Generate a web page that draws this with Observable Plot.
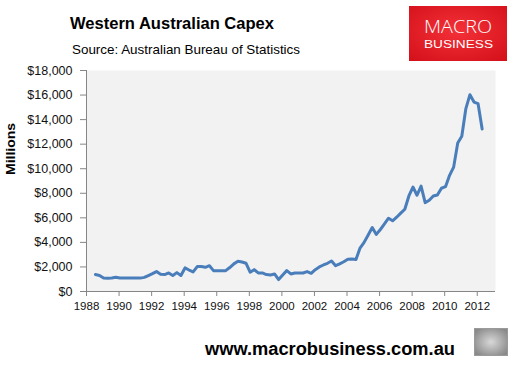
<!DOCTYPE html>
<html><head><meta charset="utf-8">
<script src="https://cdn.jsdelivr.net/npm/d3@7"></script>
<script src="https://cdn.jsdelivr.net/npm/@observablehq/plot@0.6"></script>
<style>
body{margin:0;background:#fff;width:513px;height:365px;position:relative;overflow:hidden;font-family:"Liberation Sans",Arial,sans-serif}
#chart{position:absolute;left:0;top:0}
#overlay{position:absolute;left:0;top:0;pointer-events:none}
</style></head><body>
<div id="chart"></div>
<svg id="overlay" width="513" height="365">
  <text x="70" y="29.3" font-family="Liberation Sans" font-weight="bold" font-size="16.8" textLength="204" lengthAdjust="spacingAndGlyphs" fill="#000">Western Australian Capex</text>
  <text x="72" y="54" font-family="Liberation Sans" font-size="13" textLength="228" lengthAdjust="spacingAndGlyphs" fill="#000">Source: Australian Bureau of Statistics</text>
  <text transform="translate(14.5,149) rotate(-90)" text-anchor="middle" font-family="Liberation Sans" font-weight="bold" font-size="13.5" textLength="52" lengthAdjust="spacingAndGlyphs" fill="#000">Millions</text>
  <text x="205" y="355" font-family="Liberation Sans" font-weight="bold" font-size="18" textLength="250" lengthAdjust="spacingAndGlyphs" fill="#000">www.macrobusiness.com.au</text>
  <defs>
    <radialGradient id="rg" cx="50%" cy="45%" r="70%">
      <stop offset="0" stop-color="#f43038"/>
      <stop offset="1" stop-color="#d5121b"/>
    </radialGradient>
    <radialGradient id="wg" cx="50%" cy="50%" r="60%">
      <stop offset="0" stop-color="#d8d8d8"/>
      <stop offset="1" stop-color="#8a8a8a"/>
    </radialGradient>
  </defs>
  <rect x="409" y="6" width="98" height="55" fill="url(#rg)"/>
  <text x="458" y="33" text-anchor="middle" font-family="Open Sans" font-weight="300" font-size="19" textLength="68" lengthAdjust="spacingAndGlyphs" fill="#fff">MACRO</text>
  <text x="458.5" y="47.5" text-anchor="middle" font-family="Liberation Sans" font-size="11.5" textLength="69" lengthAdjust="spacingAndGlyphs" fill="#fff">BUSINESS</text>
  <rect x="474.5" y="328.5" width="33" height="27" fill="url(#wg)" stroke="#9a9a9a"/>
</svg>
<script>
// Quarterly WA capex, $ millions, first quarter plotted at ~1988.55
const startYear = 1988.55;
const capex = [
  1380, 1300,
  1100, 1080, 1100, 1160,
  1100, 1090, 1090, 1090,
  1090, 1090, 1150, 1300,
  1450, 1620, 1400, 1380,
  1510, 1300, 1540, 1300,
  1920, 1750, 1600, 2030,
  2030, 1970, 2100, 1700,
  1700, 1700, 1700, 1950,
  2250, 2460, 2400, 2300,
  1570, 1780, 1510, 1510,
  1380, 1350, 1430, 970,
  1350, 1700, 1430, 1510,
  1510, 1510, 1620, 1480,
  1780, 2000, 2160, 2300,
  2480, 2100, 2250, 2420,
  2630, 2650, 2600, 3540,
  4000, 4600, 5210, 4650,
  5050, 5500, 5970, 5760,
  6050, 6380, 6700, 7780,
  8510, 7840, 8590, 7240,
  7430, 7780, 7860, 8410,
  8540, 9460, 10130, 12100,
  12650, 14900, 16030, 15430,
  15300, 13240
];
const xTicks = [1988, 1990, 1992, 1994, 1996, 1998, 2000, 2002, 2004, 2006, 2008, 2010, 2012];
const yTicks = [0, 2000, 4000, 6000, 8000, 10000, 12000, 14000, 16000, 18000];

const data = capex.map((v, i) => ({t: startYear + i / 4, v}));
const fmt = d3.format(",");

const chart = Plot.plot({
  width: 513, height: 365,
  marginTop: 70, marginBottom: 74, marginLeft: 86, marginRight: 18,
  x: {domain: [1988, 2013.12]},
  y: {domain: [0, 18000]},
  style: {fontFamily: "Liberation Sans", fontSize: "12.5px", color: "#111", background: "transparent"},
  marks: [
    Plot.frame({fill: "#f2f2f2", stroke: "none"}),
    Plot.axisY({ticks: yTicks, tickFormat: d => "$" + fmt(d), tickSize: 6, tickPadding: 8, stroke: "#868686", label: null}),
    Plot.axisX({ticks: xTicks, tickFormat: d => String(d), tickSize: 5, tickPadding: 5, stroke: "#868686", fontSize: 11.5, label: null}),
    Plot.ruleX([1988], {stroke: "#868686"}),
    Plot.ruleY([0], {stroke: "#868686"}),
    Plot.line(data, {x: "t", y: "v", stroke: "#4a7ebb", strokeWidth: 3, strokeLinejoin: "round"})
  ]
});
document.getElementById("chart").appendChild(chart);
</script>
</body></html>
